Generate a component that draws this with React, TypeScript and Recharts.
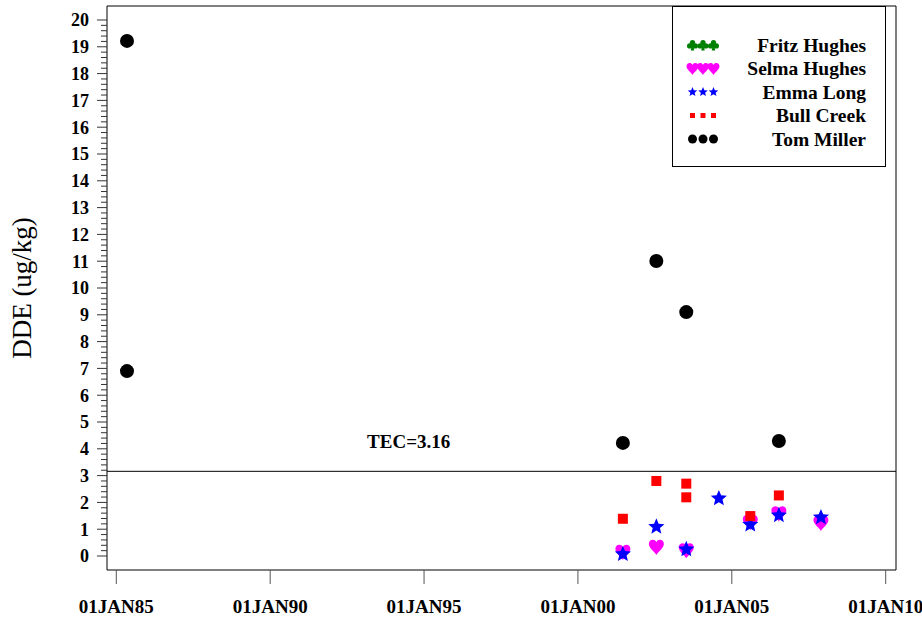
import React from 'react';
import { ScatterChart, Scatter, XAxis, YAxis, ReferenceArea, ReferenceDot } from 'recharts';

const FONT = '"Liberation Serif", "DejaVu Serif", serif';

type Sample = { date: string; dde: number };

// DDE concentrations in sediment, by site
const fritzHughes: Sample[] = [];
const selmaHughes: Sample[] = [
  { date: '2001-06-18', dde: 0.16 },
  { date: '2002-07-20', dde: 0.35 },
  { date: '2003-07-10', dde: 0.22 },
  { date: '2005-08-08', dde: 1.27 },
  { date: '2006-07-13', dde: 1.6 },
  { date: '2007-11-24', dde: 1.24 },
];
const emmaLong: Sample[] = [
  { date: '2001-06-18', dde: 0.07 },
  { date: '2002-07-20', dde: 1.09 },
  { date: '2003-07-10', dde: 0.25 },
  { date: '2004-07-31', dde: 2.15 },
  { date: '2005-08-08', dde: 1.17 },
  { date: '2006-07-13', dde: 1.52 },
  { date: '2007-11-24', dde: 1.44 },
];
const bullCreek: Sample[] = [
  { date: '2001-06-18', dde: 1.39 },
  { date: '2002-07-20', dde: 2.8 },
  { date: '2003-07-10', dde: 2.7 },
  { date: '2003-07-10', dde: 2.19 },
  { date: '2005-08-08', dde: 1.49 },
  { date: '2006-07-13', dde: 2.26 },
];
const tomMiller: Sample[] = [
  { date: '1985-05-08', dde: 19.22 },
  { date: '1985-05-08', dde: 6.9 },
  { date: '2001-06-18', dde: 4.22 },
  { date: '2002-07-20', dde: 11.01 },
  { date: '2003-07-10', dde: 9.1 },
  { date: '2006-07-13', dde: 4.29 },
];

const TEC = 3.16;
const xTickYears = [1985, 1990, 1995, 2000, 2005, 2010];
const yMajorTicks = [0, 1, 2, 3, 4, 5, 6, 7, 8, 9, 10, 11, 12, 13, 14, 15, 16, 17, 18, 19, 20];
const yMinorStep = 0.2;

const X_DOMAIN: [number, number] = [1984.698, 2010.335];
const Y_DOMAIN: [number, number] = [-0.522, 20.522];

// decimal year from an ISO date
const toYear = (d: string) => {
  const t = Date.parse(d);
  const y = new Date(t).getUTCFullYear();
  const s = Date.UTC(y, 0, 1);
  const e = Date.UTC(y + 1, 0, 1);
  return y + (t - s) / (e - s);
};
const toPoints = (rows: Sample[]) => rows.map((r) => ({ x: toYear(r.date), y: r.dde }));

const yAllTicks: number[] = [];
yMajorTicks.forEach((v, i) => {
  yAllTicks.push(v);
  if (i < yMajorTicks.length - 1) {
    for (let k = 1; k < 5; k++) yAllTicks.push(+(v + k * yMinorStep).toFixed(2));
  }
});

const Y_TICK_SIZE = 10;
const Y_TICK_MARGIN = 8;

// marker shapes
const circle = (cx: number, cy: number, r: number, fill: string) => <circle cx={cx} cy={cy} r={r} fill={fill} />;
const square = (cx: number, cy: number, s: number, fill: string) => (
  <rect x={cx - s / 2} y={cy - s / 2} width={s} height={s} fill={fill} />
);
const starPath = (cx: number, cy: number, R: number) => {
  const r = R * 0.45;
  const pts: string[] = [];
  for (let i = 0; i < 10; i++) {
    const rad = i % 2 === 0 ? R : r;
    const a = -Math.PI / 2 + (i * Math.PI) / 5;
    pts.push(`${(cx + rad * Math.cos(a)).toFixed(2)},${(cy + rad * Math.sin(a)).toFixed(2)}`);
  }
  return 'M' + pts.join('L') + 'Z';
};
const star = (cx: number, cy: number, R: number, fill: string) => <path d={starPath(cx, cy, R)} fill={fill} />;
const heartPath = (cx: number, cy: number, s: number) =>
  `M ${cx} ${cy + 0.55 * s}` +
  ` C ${cx - 0.1 * s} ${cy + 0.35 * s}, ${cx - 0.5 * s} ${cy + 0.1 * s}, ${cx - 0.5 * s} ${cy - 0.18 * s}` +
  ` C ${cx - 0.5 * s} ${cy - 0.5 * s}, ${cx - 0.1 * s} ${cy - 0.55 * s}, ${cx} ${cy - 0.3 * s}` +
  ` C ${cx + 0.1 * s} ${cy - 0.55 * s}, ${cx + 0.5 * s} ${cy - 0.5 * s}, ${cx + 0.5 * s} ${cy - 0.18 * s}` +
  ` C ${cx + 0.5 * s} ${cy + 0.1 * s}, ${cx + 0.1 * s} ${cy + 0.35 * s}, ${cx} ${cy + 0.55 * s} Z`;
const heart = (cx: number, cy: number, s: number, fill: string) => <path d={heartPath(cx, cy, s)} fill={fill} />;
const club = (cx: number, cy: number, s: number, fill: string) => {
  const r = s * 0.24;
  return (
    <g fill={fill}>
      <circle cx={cx} cy={cy - s * 0.22} r={r} />
      <circle cx={cx - s * 0.26} cy={cy + s * 0.08} r={r} />
      <circle cx={cx + s * 0.26} cy={cy + s * 0.08} r={r} />
      <path d={`M ${cx - s * 0.06} ${cy} L ${cx + s * 0.06} ${cy} L ${cx + s * 0.16} ${cy + s * 0.5} L ${cx - s * 0.16} ${cy + s * 0.5} Z`} />
    </g>
  );
};

const series = [
  { name: 'Fritz Hughes', rows: fritzHughes, color: '#008000', draw: (cx: number, cy: number) => club(cx, cy, 14, '#008000'), key: (cx: number, cy: number) => club(cx, cy, 11, '#008000') },
  { name: 'Selma Hughes', rows: selmaHughes, color: '#ff00ff', draw: (cx: number, cy: number) => heart(cx, cy, 15, '#ff00ff'), key: (cx: number, cy: number) => heart(cx, cy, 12, '#ff00ff') },
  { name: 'Emma Long', rows: emmaLong, color: '#0000ff', draw: (cx: number, cy: number) => star(cx, cy, 8.5, '#0000ff'), key: (cx: number, cy: number) => star(cx, cy, 5, '#0000ff') },
  { name: 'Bull Creek', rows: bullCreek, color: '#ff0000', draw: (cx: number, cy: number) => square(cx, cy, 10, '#ff0000'), key: (cx: number, cy: number) => square(cx, cy, 5, '#ff0000') },
  { name: 'Tom Miller', rows: tomMiller, color: '#000000', draw: (cx: number, cy: number) => circle(cx, cy, 7, '#000000'), key: (cx: number, cy: number) => circle(cx, cy, 4.5, '#000000') },
];

const YTick = (props: any) => {
  const { x, y, payload } = props;
  const v = payload.value as number;
  const major = Math.abs(v - Math.round(v)) < 1e-6;
  const axisX = x + Y_TICK_SIZE + Y_TICK_MARGIN;
  return (
    <g>
      <line x1={axisX - (major ? Y_TICK_SIZE : 6)} x2={axisX} y1={y} y2={y} stroke="#333" strokeWidth={1} />
      {major && (
        <text x={x} y={y} dy="0.36em" textAnchor="end" fontFamily={FONT} fontWeight="bold" fontSize={18} fill="#000">
          {v}
        </text>
      )}
    </g>
  );
};

const LegendBox = () => (
  <svg width={214} height={161} style={{ display: 'block' }}>
    <rect x={0.5} y={0.5} width={213} height={160} fill="#fff" stroke="#000" strokeWidth={1} />
    {series.map((s, i) => {
      const cy = 39 + i * 23.5;
      return (
        <g key={s.name}>
          {[20.5, 31, 41.5].map((cx) => (
            <g key={cx}>{s.key(cx, cy)}</g>
          ))}
          <text x={194} y={cy} dy="0.35em" textAnchor="end" fontFamily={FONT} fontWeight="bold" fontSize={19.5} fill="#000">
            {s.name}
          </text>
        </g>
      );
    })}
  </svg>
);

const AxisTitle = (props: any) => {
  const vb = props.viewBox || {};
  const cx = 22;
  const cy = (vb.y ?? 6) + (vb.height ?? 564) / 2;
  return (
    <text x={cx} y={cy} transform={`rotate(-90 ${cx} ${cy})`} textAnchor="middle" dominantBaseline="central" fontFamily={FONT} fontSize={27} fill="#000">
      DDE  (ug/kg)
    </text>
  );
};

// horizontal rule across the band computed for the threshold
const TecRule = (p: any) => (
  <line x1={p.x} x2={p.x + p.width} y1={p.y} y2={p.y} stroke="#000" strokeWidth={1} />
);

export default function App() {
  return (
    <div style={{ position: 'absolute', left: 0, top: 0, width: 922, height: 624, background: '#fff' }}>
      <ScatterChart width={922} height={624} margin={{ top: 6, right: 26, bottom: 0, left: 0 }}>
        <XAxis
          type="number"
          dataKey="x"
          domain={X_DOMAIN}
          allowDataOverflow
          ticks={xTickYears}
          interval={0}
          tickFormatter={(v: number) => '01JAN' + String(v % 100).padStart(2, '0')}
          height={54}
          axisLine={false}
          tickSize={14}
          tickMargin={16}
          tickLine={{ stroke: '#555' }}
          tick={{ fontFamily: FONT, fontWeight: 'bold', fontSize: 19, fill: '#000' }}
        />
        <YAxis
          type="number"
          dataKey="y"
          domain={Y_DOMAIN}
          allowDataOverflow
          ticks={yAllTicks}
          interval={0}
          width={107}
          axisLine={false}
          tickLine={false}
          tickSize={Y_TICK_SIZE}
          tickMargin={Y_TICK_MARGIN}
          tick={<YTick />}
          label={<AxisTitle />}
        />
        <ReferenceArea x1={X_DOMAIN[0]} x2={X_DOMAIN[1]} y1={Y_DOMAIN[0]} y2={Y_DOMAIN[1]} fill="none" stroke="#000" strokeWidth={1} fillOpacity={0} />
        <ReferenceArea x1={X_DOMAIN[0]} x2={X_DOMAIN[1]} y1={TEC} y2={TEC - 0.0001} shape={<TecRule />} />
        <ReferenceDot
          x={1994.5}
          y={4.03}
          r={0}
          shape={(p: any) => (
            <text x={p.cx} y={p.cy} textAnchor="middle" fontFamily={FONT} fontWeight="bold" fontSize={19} fill="#000">
              {`TEC=${TEC}`}
            </text>
          )}
        />
        {series.map((s) => (
          <Scatter
            key={s.name}
            name={s.name}
            data={toPoints(s.rows)}
            fill={s.color}
            isAnimationActive={false}
            shape={(p: any) => s.draw(p.cx, p.cy)}
          />
        ))}
      </ScatterChart>
      <div style={{ position: 'absolute', left: 672, top: 6 }}>
        <LegendBox />
      </div>
    </div>
  );
}
